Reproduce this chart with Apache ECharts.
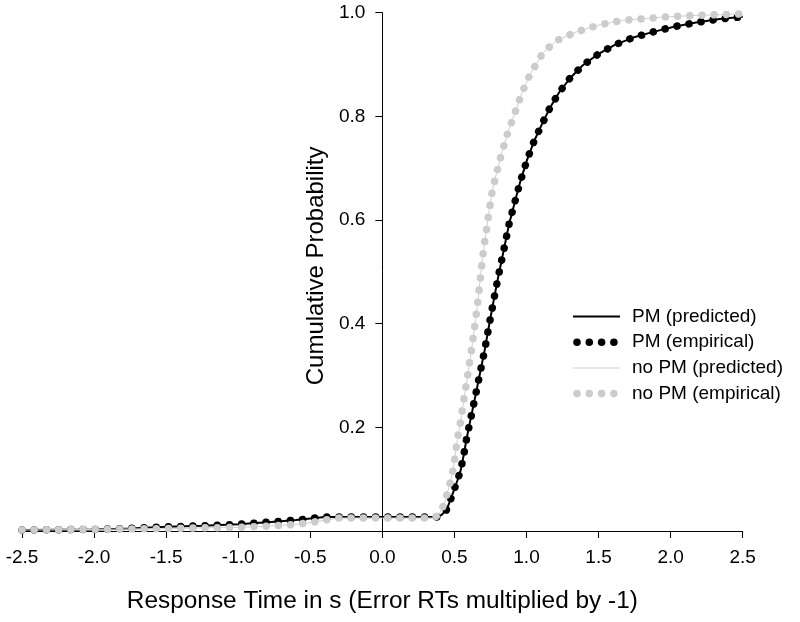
<!DOCTYPE html>
<html><head><meta charset="utf-8">
<script src="https://cdn.jsdelivr.net/npm/echarts@6/dist/echarts.min.js"></script>
<style>html,body{margin:0;padding:0;background:#fff}#c{width:800px;height:622px}</style>
</head><body><div id="c"></div>
<script>
// PM condition (black): x = response time (s), y = cumulative probability
const pmX = [-2.5,-2.25,-2.0,-1.75,-1.5,-1.25,-1.0,-0.75,-0.6,-0.5,-0.4,0.0,0.38,0.41,0.444,0.47,0.497,0.52,0.544,0.565,0.583,0.61,0.64,0.675,0.71,0.74,0.773,0.805,0.835,0.86,0.879,0.926,0.96,1.004,1.051,1.104,1.162,1.226,1.30,1.389,1.497,1.613,1.74,1.88,2.023,2.176,2.34,2.5];
const pmY = [0.002,0.0025,0.003,0.005,0.008,0.010,0.013,0.018,0.021,0.024,0.027,0.027,0.027,0.031,0.04,0.058,0.079,0.097,0.118,0.147,0.176,0.213,0.253,0.301,0.349,0.396,0.446,0.492,0.532,0.566,0.592,0.642,0.677,0.716,0.751,0.783,0.816,0.846,0.873,0.898,0.920,0.938,0.952,0.963,0.973,0.981,0.988,0.992];
// no PM condition (grey)
const noPmX = [-2.5,-2.25,-2.0,-1.75,-1.5,-1.25,-1.0,-0.75,-0.6,-0.5,-0.4,-0.3,0.0,0.35,0.385,0.41,0.435,0.456,0.475,0.49,0.505,0.52,0.545,0.565,0.592,0.618,0.642,0.664,0.68,0.696,0.712,0.729,0.745,0.762,0.796,0.831,0.872,0.919,0.965,1.023,1.115,1.208,1.347,1.497,1.66,1.97,2.2,2.48];
const noPmY = [0.002,0.0025,0.003,0.004,0.0045,0.006,0.007,0.010,0.013,0.016,0.021,0.025,0.025,0.025,0.03,0.04,0.058,0.079,0.098,0.118,0.145,0.176,0.215,0.253,0.30,0.349,0.397,0.446,0.488,0.529,0.562,0.594,0.625,0.655,0.695,0.732,0.770,0.806,0.843,0.880,0.923,0.946,0.963,0.976,0.985,0.992,0.995,0.9975];

const seriesNames = ['PM (predicted)','PM (empirical)','no PM (predicted)','no PM (empirical)'];
const xTickValues = [-2.5,-2.0,-1.5,-1.0,-0.5,0.0,0.5,1.0,1.5,2.0,2.5];
const yTickValues = [0.2,0.4,0.6,0.8,1.0];

const pairs = (xs, ys) => xs.map((x, i) => [x, ys[i]]);
const FONT = 'Liberation Sans, Arial, Helvetica, sans-serif';
const BOX = 'M0,0M47,8';
const lineIcon = h => 'path://' + BOX + 'M0,' + (4 - h/2) + 'L47,' + (4 - h/2) + 'L47,' + (4 + h/2) + 'L0,' + (4 + h/2) + 'Z';
let dots = 'path://' + BOX;
[4, 16.3, 28.6, 40.9].forEach(c => { dots += 'M' + (c - 3.8) + ',4a3.8,3.8 0 1,0 7.6,0a3.8,3.8 0 1,0 -7.6,0Z'; });

const GRID_LEFT = 22, GRID_RIGHT = 57.3;
const plotW = 800 - GRID_LEFT - GRID_RIGHT;
// y axis sits at x = 0: shift it from the grid's left edge by the fraction of the x range
const yAxisShift = plotW * (0 - (-2.5)) / 5;

const chart = echarts.init(document.getElementById('c'), null, {renderer: 'canvas'});
chart.setOption({
  animation: false,
  backgroundColor: '#fff',
  grid: {left: GRID_LEFT, right: GRID_RIGHT, top: 12.7, bottom: 91, outerBoundsMode: 'none', containLabel: false},
  legend: {
    orient: 'vertical', left: 573, top: 307, padding: 0, itemGap: 6.7,
    itemWidth: 47, itemHeight: 8, selectedMode: false,
    itemStyle: {borderWidth: 0},
    textStyle: {fontSize: 19, color: '#000', fontFamily: FONT, padding: [0, 0, 0, 7]},
    data: [
      {name: seriesNames[0], icon: lineIcon(2), itemStyle: {color: '#000'}},
      {name: seriesNames[1], icon: dots, itemStyle: {color: '#000'}},
      {name: seriesNames[2], icon: lineIcon(1), itemStyle: {color: '#d0d0d0'}},
      {name: seriesNames[3], icon: dots, itemStyle: {color: '#cccccc'}}
    ]
  },
  xAxis: {
    type: 'value', min: -2.5, max: 2.5, interval: 0.5,
    name: 'Response Time in s (Error RTs multiplied by -1)',
    nameLocation: 'middle', nameGap: 58,
    nameTextStyle: {fontSize: 24.4, color: '#000', fontFamily: FONT},
    axisLine: {onZero: false, lineStyle: {color: '#000', width: 1}},
    axisTick: {show: true, length: 7, lineStyle: {color: '#000'}},
    axisLabel: {margin: 17, fontSize: 19, color: '#000', fontFamily: FONT,
      formatter: v => xTickValues.some(t => Math.abs(t - v) < 1e-9) ? v.toFixed(1) : ''},
    splitLine: {show: false}
  },
  yAxis: {
    type: 'value', min: 0, max: 1, interval: 0.2, offset: -yAxisShift,
    name: 'Cumulative Probability',
    nameLocation: 'middle', nameGap: 53,
    nameTextStyle: {fontSize: 24, color: '#000', fontFamily: FONT, padding: [0, 0, 0, 12]},
    axisLine: {show: true, onZero: false, lineStyle: {color: '#000', width: 1}},
    axisTick: {show: true, length: 7, lineStyle: {color: '#000'}},
    axisLabel: {margin: 17, fontSize: 19, color: '#000', fontFamily: FONT,
      formatter: v => yTickValues.some(t => Math.abs(t - v) < 1e-9) ? v.toFixed(1) : ''},
    splitLine: {show: false}
  },
  series: [
    {name: seriesNames[0], type: 'line', data: pairs(pmX, pmY), symbol: 'none', clip: false,
     itemStyle: {color: '#000'}, lineStyle: {color: '#000', width: 2}},
    {name: seriesNames[1], type: 'line', data: pairs(pmX, pmY), symbol: 'none', clip: false,
     itemStyle: {color: '#000'}, lineStyle: {color: '#000', width: 7.5, type: [0.01, 12.2], cap: 'round'}},
    {name: seriesNames[2], type: 'line', data: pairs(noPmX, noPmY), symbol: 'none', clip: false,
     itemStyle: {color: '#d0d0d0'}, lineStyle: {color: '#d0d0d0', width: 1}},
    {name: seriesNames[3], type: 'line', data: pairs(noPmX, noPmY), symbol: 'none', clip: false,
     itemStyle: {color: '#cccccc'}, lineStyle: {color: '#cccccc', width: 7.5, type: [0.01, 12.2], cap: 'round'}}
  ]
});
</script></body></html>
